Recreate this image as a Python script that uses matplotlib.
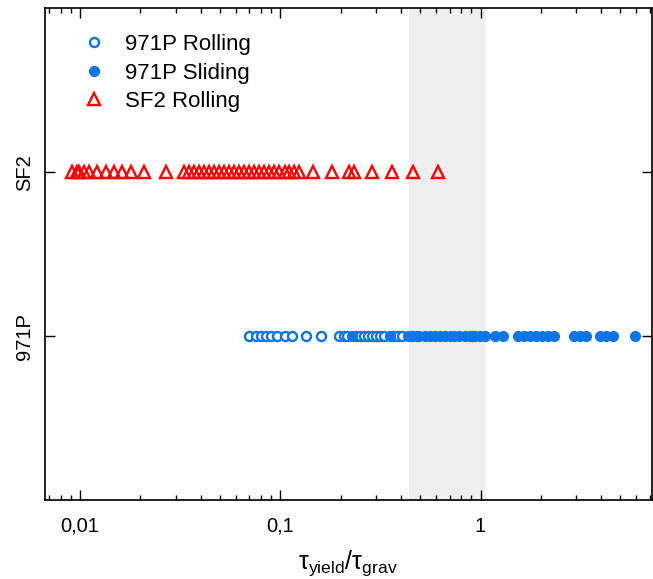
import numpy as np
import matplotlib
matplotlib.use('Agg')
import matplotlib.pyplot as plt
from matplotlib.ticker import FixedLocator, LogLocator, NullFormatter, FuncFormatter

plt.rcParams['font.family'] = ['Liberation Sans', 'DejaVu Sans']
plt.rcParams['mathtext.fontset'] = 'custom'
plt.rcParams['mathtext.rm'] = 'Liberation Sans'
plt.rcParams['mathtext.it'] = 'Liberation Sans:italic'

# data (tau_yield / tau_grav)
categories = ['971P', 'SF2']

p971_rolling = [0.0700, 0.0759, 0.0804, 0.0851, 0.0902, 0.0966, 0.105, 0.115,
                0.135, 0.160, 0.197, 0.207, 0.216, 0.240, 0.251, 0.263, 0.275,
                0.288, 0.302, 0.316, 0.331, 0.367, 0.385, 0.403, 0.457, 0.479,
                0.902]

p971_sliding = [0.229, 0.351, 0.432, 0.495, 0.525, 0.556, 0.589, 0.624, 0.661,
                0.700, 0.741, 0.785, 0.832, 0.881, 0.933, 0.989, 1.047, 1.175,
                1.288, 1.531, 1.641, 1.758, 1.884, 2.018, 2.163, 2.317, 2.917,
                3.126, 3.350, 3.936, 4.217, 4.571, 5.888]

sf2_rolling = [0.0091, 0.0096, 0.0099, 0.0104, 0.0111, 0.0122, 0.0135, 0.0148,
               0.0162, 0.0180, 0.0209, 0.0269, 0.0331, 0.0351, 0.0372, 0.0394,
               0.0417, 0.0442, 0.0468, 0.0496, 0.0525, 0.0556, 0.0589, 0.0624,
               0.0661, 0.0700, 0.0741, 0.0785, 0.0832, 0.0881, 0.0933, 0.0989,
               0.105, 0.111, 0.117, 0.124, 0.145, 0.182, 0.221, 0.234, 0.288,
               0.363, 0.462, 0.610]

shade_range = (0.437, 1.07)

blue = '#0b74e6'
red = '#ff0000'

fig = plt.figure(figsize=(6.53, 5.79), dpi=100)
ax = fig.add_axes([0.069, 0.136, 0.929, 0.85])

ax.axvspan(shade_range[0], shade_range[1], color='#efefef', zorder=0, lw=0)

ax.plot(p971_rolling, [1] * len(p971_rolling), 'o', ms=6.5, mfc='white', mec=blue,
        mew=1.7, ls='none', label='971P Rolling')
ax.plot(p971_sliding, [1] * len(p971_sliding), 'o', ms=7, mfc=blue, mec=blue,
        ls='none', label='971P Sliding')
ax.plot(sf2_rolling, [2] * len(sf2_rolling), '^', ms=8.5, mfc='none', mec=red,
        mew=1.7, ls='none', label='SF2 Rolling')

ax.set_xscale('log')
ax.set_xlim(0.00668, 7.16)
ax.set_ylim(0, 3)

ax.xaxis.set_major_locator(FixedLocator([0.01, 0.1, 1]))
ax.xaxis.set_major_formatter(FuncFormatter(lambda v, p: ('%g' % v).replace('.', ',')))
ax.xaxis.set_minor_locator(LogLocator(base=10, subs=np.arange(2, 10)))
ax.xaxis.set_minor_formatter(NullFormatter())

ax.set_yticks([1, 2])
ax.set_yticklabels(categories, rotation=90, va='center')

ax.tick_params(axis='both', which='major', direction='in', length=7, width=1,
               top=True, right=True, labelsize=14.5)
ax.tick_params(axis='x', which='major', pad=12)
ax.tick_params(axis='y', which='major', pad=8)
ax.tick_params(axis='x', which='minor', direction='in', length=3.5, width=1, top=True)
for s in ax.spines.values():
    s.set_linewidth(1.2)

ax.set_xlabel(r'τ$_{\mathrm{yield}}$/τ$_{\mathrm{grav}}$', fontsize=18, labelpad=9)

ax.legend(loc='upper left', bbox_to_anchor=(0.03, 0.965), borderaxespad=0,
          frameon=False, fontsize=16, handletextpad=0.4, labelspacing=0.33)

fig.savefig('out.png', dpi=100)
